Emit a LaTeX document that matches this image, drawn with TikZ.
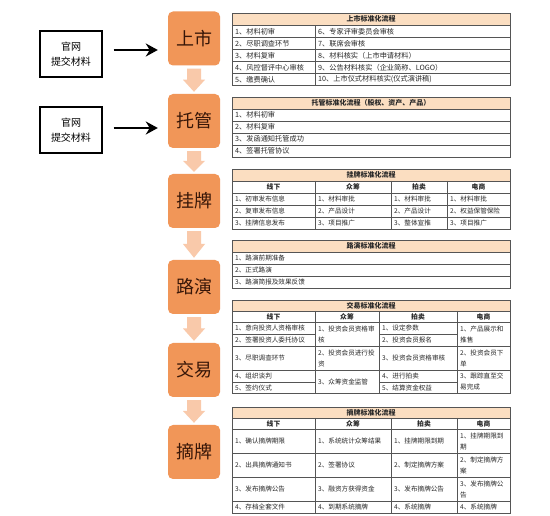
\documentclass[tikz,border=0pt]{standalone}
\usepackage{fontspec}
\setmainfont{Noto Sans CJK SC}
\usetikzlibrary{arrows.meta,calc}
\definecolor{boxor}{RGB}{241,150,88}
\definecolor{arrlt}{RGB}{249,201,170}
\definecolor{peach}{RGB}{251,222,193}
\definecolor{gridc}{RGB}{85,85,85}
\definecolor{stagetxt}{RGB}{55,22,8}
\definecolor{celltxt}{RGB}{40,40,40}
\newcommand\flowarrow[2]{%
  \fill[arrlt] let \p1=(#1.south), \p2=(#2.north), \n1={0.5*(\y1+\y2)} in
  ({\x1-7pt},{\y1-3pt}) -- ({\x1+7pt},{\y1-3pt}) -- ({\x1+7pt},\n1) -- ({\x1+11pt},\n1)
  -- (\x1,{\y2+2pt}) -- ({\x1-11pt},\n1) -- ({\x1-7pt},\n1) -- cycle;}
\begin{document}
\begin{tikzpicture}[x=1pt,y=-1pt,
  stage/.style={minimum width=52pt,minimum height=54pt,rounded corners=5pt,fill=boxor,
    inner sep=0pt,text=stagetxt,font=\fontsize{18}{18}\selectfont},
  src/.style={draw,line width=1.1pt,minimum width=62pt,minimum height=46pt,align=center,
    inner sep=0pt,font=\fontsize{10}{15}\selectfont},
  bk/.style={line width=2.4pt,-{Stealth[length=12pt,width=13pt]},shorten <=11pt,shorten >=10pt},
  gl/.style={draw=gridc,line width=0.6pt},
  gbox/.style={draw=gridc,line width=0.9pt},
  ttl/.style={inner sep=0pt,font=\bfseries\fontsize{7}{8}\selectfont,text=celltxt},
  hd/.style={inner sep=0pt,font=\bfseries\fontsize{6.8}{8}\selectfont,text=celltxt},
  cb/.style={anchor=west,inner sep=0pt,font=\fontsize{7.2}{8}\selectfont,text=celltxt},
  cs/.style={anchor=west,inner sep=0pt,align=left,font=\fontsize{6.6}{11}\selectfont,text=celltxt}]
\useasboundingbox (0,0) rectangle (550,516);
\fill[white] (0,0) rectangle (550,516);

% stages
\node[stage] (s1) at (194,38.5) {上市};
\node[stage] (s2) at (194,121) {托管};
\node[stage] (s3) at (194,201) {挂牌};
\node[stage] (s4) at (194,287) {路演};
\node[stage] (s5) at (194,370) {交易};
\node[stage] (s6) at (194,452) {摘牌};
\flowarrow{s1}{s2}
\flowarrow{s2}{s3}
\flowarrow{s3}{s4}
\flowarrow{s4}{s5}
\flowarrow{s5}{s6}

% sources
\node[src] (g1) at (71,54) {官网\\提交材料};
\node[src] (g2) at (71,130) {官网\\提交材料};
\draw[bk] (g1.east |- 0,50) -- (s1.west |- 0,50);
\draw[bk] (g2.east |- 0,128) -- (s2.west |- 0,128);

% ---------- Table 1
\fill[peach] (232,13) rectangle (510,25.5);
\node[ttl] (t1) at (371,19.25) {上市标准化流程};
\foreach \y in {25.5,37.5,49.5,61.5,73.5} \draw[gl] (232,\y) -- (510,\y);
\draw[gl] (315,25.5) -- (315,85.5);
\draw[gbox] (232,13) rectangle (510,85.5);
\node[cb] (t1a1) at (235,31.5) {1、材料初审};
\node[cb] (t1a2) at (235,43.5) {2、尽职调查环节};
\node[cb] (t1a3) at (235,55.5) {3、材料复审};
\node[cb] (t1a4) at (235,67.5) {4、风控督评中心审核};
\node[cb] (t1a5) at (235,79.5) {5、缴费确认};
\node[cb] (t1b1) at (318,31.5) {6、专家评审委员会审核};
\node[cb] (t1b2) at (318,43.5) {7、联席会审核};
\node[cb] (t1b3) at (318,55.5) {8、材料核实（上市申请材料）};
\node[cb] (t1b4) at (318,67.5) {9、公告材料核实（企业简称、LOGO）};
\node[cb] (t1b5) at (318,79.5) {10、上市仪式材料核实(仪式演讲稿)};

% ---------- Table 2
\fill[peach] (232,97) rectangle (510,109);
\node[ttl] (t2) at (371,103) {托管标准化流程（股权、资产、产品）};
\foreach \y in {109,121,133,145} \draw[gl] (232,\y) -- (510,\y);
\draw[gbox] (232,97) rectangle (510,157);
\node[cb] (t2a1) at (235,115) {1、材料初审};
\node[cb] (t2a2) at (235,127) {2、材料复审};
\node[cb] (t2a3) at (235,139) {3、发函通知托管成功};
\node[cb] (t2a4) at (235,151) {4、签署托管协议};

% ---------- Table 3
\fill[peach] (232,169) rectangle (510,181);
\node[ttl] (t3) at (371,175) {挂牌标准化流程};
\foreach \y in {181,193,205,217} \draw[gl] (232,\y) -- (510,\y);
\foreach \x in {315,391,447} \draw[gl] (\x,181) -- (\x,229);
\draw[gbox] (232,169) rectangle (510,229);
\node[hd] (t3h1) at (273.5,187) {线下};
\node[hd] (t3h2) at (353,187) {众筹};
\node[hd] (t3h3) at (419,187) {拍卖};
\node[hd] (t3h4) at (478.5,187) {电商};
\node[cs] (t3a1) at (235,199) {1、初审发布信息};
\node[cs] (t3a2) at (235,211) {2、复审发布信息};
\node[cs] (t3a3) at (235,223) {3、挂牌信息发布};
\node[cs] (t3b1) at (318,199) {1、材料审批};
\node[cs] (t3b2) at (318,211) {2、产品设计};
\node[cs] (t3b3) at (318,223) {3、项目推广};
\node[cs] (t3c1) at (394,199) {1、材料审批};
\node[cs] (t3c2) at (394,211) {2、产品设计};
\node[cs] (t3c3) at (394,223) {3、整体宣推};
\node[cs] (t3d1) at (450,199) {1、材料审批};
\node[cs] (t3d2) at (450,211) {2、权益保管保险};
\node[cs] (t3d3) at (450,223) {3、项目推广};

% ---------- Table 4
\fill[peach] (232,240) rectangle (510,252);
\node[ttl] (t4) at (371,246) {路演标准化流程};
\foreach \y in {252,264,276} \draw[gl] (232,\y) -- (510,\y);
\draw[gbox] (232,240) rectangle (510,288);
\node[cs] (t4a1) at (235,258) {1、路演前期准备};
\node[cs] (t4a2) at (235,270) {2、正式路演};
\node[cs] (t4a3) at (235,282) {3、路演简报及效果反馈};

% ---------- Table 5
\fill[peach] (232,300) rectangle (510,311);
\node[ttl] (t5) at (371,305.5) {交易标准化流程};
\foreach \y in {311,322,346,370} \draw[gl] (232,\y) -- (510,\y);
\foreach \y in {334,382} {\draw[gl] (232,\y) -- (315,\y); \draw[gl] (379,\y) -- (457,\y);}
\foreach \x in {315,379,457} \draw[gl] (\x,311) -- (\x,393);
\draw[gbox] (232,300) rectangle (510,393);
\node[hd] (t5h1) at (273.5,316.5) {线下};
\node[hd] (t5h2) at (347,316.5) {众筹};
\node[hd] (t5h3) at (418,316.5) {拍卖};
\node[hd] (t5h4) at (483.5,316.5) {电商};
\node[cs] (t5a1) at (235,328) {1、意向投资人资格审核};
\node[cs] (t5a2) at (235,340) {2、签署投资人委托协议};
\node[cs] (t5a3) at (235,358) {3、尽职调查环节};
\node[cs] (t5a4) at (235,376) {4、组织谈判};
\node[cs] (t5a5) at (235,387.5) {5、签约仪式};
\node[cs] (t5b1) at (318,334) {1、投资会员资格审\\核};
\node[cs] (t5b2) at (318,358) {2、投资会员进行投\\资};
\node[cs] (t5b3) at (318,381.5) {3、众筹资金监管};
\node[cs] (t5c1) at (382,328) {1、设定参数};
\node[cs] (t5c2) at (382,340) {2、投资会员报名};
\node[cs] (t5c3) at (382,358) {3、投资会员资格审核};
\node[cs] (t5c4) at (382,376) {4、进行拍卖};
\node[cs] (t5c5) at (382,387.5) {5、结算资金权益};
\node[cs] (t5d1) at (460,334) {1、产品展示和\\推售};
\node[cs] (t5d2) at (460,358) {2、投资会员下\\单};
\node[cs] (t5d3) at (460,381.5) {3、跟踪直至交\\易完成};

% ---------- Table 6
\fill[peach] (232,407) rectangle (510,418);
\node[ttl] (t6) at (371,412.5) {摘牌标准化流程};
\foreach \y in {418,429,453,477,501} \draw[gl] (232,\y) -- (510,\y);
\foreach \x in {315,391,457} \draw[gl] (\x,418) -- (\x,513);
\draw[gbox] (232,407) rectangle (510,513);
\node[hd] (t6h1) at (273.5,423.5) {线下};
\node[hd] (t6h2) at (353,423.5) {众筹};
\node[hd] (t6h3) at (424,423.5) {拍卖};
\node[hd] (t6h4) at (483.5,423.5) {电商};
\node[cs] (t6a1) at (235,441) {1、确认摘牌期限};
\node[cs] (t6a2) at (235,465) {2、出具摘牌通知书};
\node[cs] (t6a3) at (235,489) {3、发布摘牌公告};
\node[cs] (t6a4) at (235,507) {4、存档全套文件};
\node[cs] (t6b1) at (318,441) {1、系统统计众筹结果};
\node[cs] (t6b2) at (318,465) {2、签署协议};
\node[cs] (t6b3) at (318,489) {3、融资方获得资金};
\node[cs] (t6b4) at (318,507) {4、到期系统摘牌};
\node[cs] (t6c1) at (394,441) {1、挂牌期限到期};
\node[cs] (t6c2) at (394,465) {2、制定摘牌方案};
\node[cs] (t6c3) at (394,489) {3、发布摘牌公告};
\node[cs] (t6c4) at (394,507) {4、系统摘牌};
\node[cs] (t6d1) at (460,441) {1、挂牌期限到\\期};
\node[cs] (t6d2) at (460,465) {2、制定摘牌方\\案};
\node[cs] (t6d3) at (460,489) {3、发布摘牌公\\告};
\node[cs] (t6d4) at (460,507) {4、系统摘牌};
\end{tikzpicture}
\end{document}
